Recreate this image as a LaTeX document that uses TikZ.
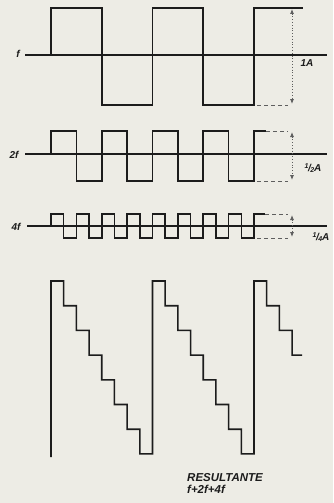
\documentclass[tikz,border=0pt]{standalone}
\usepackage{fontspec}
\setmainfont{Liberation Sans}
\usepackage{xcolor}
\usepackage{tikz}
\usetikzlibrary{arrows.meta,positioning,calc}
\definecolor{paper}{HTML}{EDECE5}
\definecolor{ink}{HTML}{1C1C1C}
\definecolor{dimgray}{HTML}{5E5E5E}
\newcommand{\ampfrac}[1]{\raisebox{2.5pt}{\fontsize{7}{8}\selectfont 1}\kern-0.5pt/\kern-0.5pt\raisebox{-1pt}{\fontsize{7}{8}\selectfont #1}A}

\begin{document}
\begin{tikzpicture}[x=1pt, y=-1pt,
  wave/.style={draw=ink, line width=1.6pt, line join=miter},
  axisline/.style={draw=ink, line width=1.6pt},
  guide/.style={draw=dimgray, line width=1pt, dash pattern=on 4pt off 3pt},
  dimarr/.style={{Latex[length=5pt,width=4pt]}-{Latex[length=5pt,width=4pt]},
                 draw=dimgray, line width=0.8pt, dotted},
  lbl/.style={font=\bfseries\itshape\fontsize{10}{12}\selectfont, text=ink, inner sep=1pt},
  res/.style={font=\bfseries\itshape\fontsize{11.5}{13}\selectfont, text=ink, inner sep=1pt, anchor=west}
]
  \fill[paper] (0,0) rectangle (333,503);
  \useasboundingbox (0,0) rectangle (333,503);

  % axes
  \coordinate (f-a)  at (25,55);   \coordinate (f-b)  at (327,55);
  \coordinate (2f-a) at (25,154);  \coordinate (2f-b) at (327,154);
  \coordinate (4f-a) at (27,226);  \coordinate (4f-b) at (327,226);
  \draw[axisline] (f-a) -- (f-b);
  \draw[axisline] (2f-a) -- (2f-b);
  \draw[axisline] (4f-a) -- (4f-b);

  % fundamental f
  \draw[wave] (51,55) -- (51,8) -- (101.75,8) -- (101.75,105) -- (152.5,105)
    -- (152.5,8) -- (203.25,8) -- (203.25,105) -- (254,105) -- (254,8) -- (303,8);
  \draw[guide] (257,105) -- (288,105);

  % harmonic 2f
  \draw[wave] (51,154) -- (51,131)
    \foreach \i in {0,...,3}{
      -- ({51+(2*\i+1)*25.375},131) -- ({51+(2*\i+1)*25.375},181)
      -- ({51+(2*\i+2)*25.375},181) -- ({51+(2*\i+2)*25.375},131) }
    -- (266,131);
  \draw[guide] (266,131) -- (288,131);
  \draw[guide] (257,181) -- (288,181);

  % harmonic 4f
  \draw[wave] (51,226) -- (51,214)
    \foreach \i in {0,...,7}{
      -- ({51+(2*\i+1)*12.6875},214) -- ({51+(2*\i+1)*12.6875},238)
      -- ({51+(2*\i+2)*12.6875},238) -- ({51+(2*\i+2)*12.6875},214) }
    -- (265,214);
  \draw[guide] (265,214) -- (288,214);
  \draw[guide] (257,238) -- (288,238);

  % amplitudes
  \coordinate (d1-t) at (292,9);   \coordinate (d1-b) at (292,104);
  \coordinate (d2-t) at (292,132); \coordinate (d2-b) at (292,180);
  \coordinate (d4-t) at (292,215); \coordinate (d4-b) at (292,237);
  \draw[dimarr] (d1-t) -- (d1-b);
  \draw[dimarr] (d2-t) -- (d2-b);
  \draw[dimarr] (d4-t) -- (d4-b);

  % resultant staircase
  \draw[wave] (51,457) -- (51,281)
    \foreach \p in {0,1}{
      \foreach \j in {0,...,6}{
        -- ({51+\p*101.5+(\j+1)*12.6875},{281+\j*24.7})
        -- ({51+\p*101.5+(\j+1)*12.6875},{281+(\j+1)*24.7}) }
      -- ({51+(\p+1)*101.5},453.9) -- ({51+(\p+1)*101.5},281) }
    \foreach \j in {0,1,2}{
      -- ({254+(\j+1)*12.6875},{281+\j*24.7})
      -- ({254+(\j+1)*12.6875},{281+(\j+1)*24.7}) }
    -- (302,355.1);

  % labels
  \node[lbl] (lf)  at (18,54)  {f};
  \node[lbl] (l2f) at (14,155) {2f};
  \node[lbl] (l4f) at (16,227) {4f};
  \node[lbl] (a1)  at (307,63)  {1A};
  \node[lbl] (a2)  at (313,168) {\ampfrac{2}};
  \node[lbl] (a4)  at (321,237) {\ampfrac{4}};
  \node[res] (rs)  at (186,478) {RESULTANTE};
  \node[res,below=1pt of rs.south west,anchor=north west] (rsum) {f+2f+4f};
\end{tikzpicture}
\end{document}
